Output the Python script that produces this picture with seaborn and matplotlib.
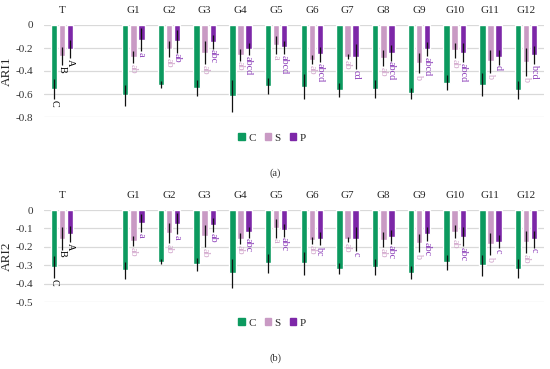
import numpy as np
import pandas as pd
import seaborn as sns
import matplotlib
matplotlib.use("Agg")
import matplotlib.pyplot as plt

groups = ['T', ' ', 'G1', 'G2', 'G3', 'G4', 'G5', 'G6', 'G7', 'G8', 'G9', 'G10', 'G11', 'G12']
present = ['T', 'G1', 'G2', 'G3', 'G4', 'G5', 'G6', 'G7', 'G8', 'G9', 'G10', 'G11', 'G12']
treatments = ['C', 'S', 'P']

# ARI1 means / errors (T, G1..G12)
ari1_c = [-0.557, -0.61, -0.52, -0.545, -0.62, -0.53, -0.535, -0.565, -0.555, -0.595, -0.50, -0.52, -0.565]
ari1_s = [-0.27, -0.28, -0.21, -0.24, -0.26, -0.175, -0.30, -0.275, -0.29, -0.33, -0.22, -0.315, -0.32]
ari1_p = [-0.21, -0.13, -0.14, -0.145, -0.21, -0.195, -0.255, -0.275, -0.24, -0.21, -0.24, -0.28, -0.26]
ari1_c_err = [0.09, 0.09, 0.03, 0.07, 0.14, 0.07, 0.11, 0.06, 0.08, 0.05, 0.065, 0.10, 0.08]
ari1_s_err = [0.08, 0.05, 0.07, 0.10, 0.05, 0.08, 0.04, 0.02, 0.07, 0.09, 0.065, 0.10, 0.12]
ari1_p_err = [0.08, 0.10, 0.10, 0.06, 0.05, 0.06, 0.065, 0.11, 0.07, 0.06, 0.08, 0.065, 0.075]
ari1_s_lab = ['B', 'ab', 'ab', 'ab', 'ab', 'a', 'ab', 'ab', 'ab', 'b', 'ab', 'b', 'b']
ari1_p_lab = ['A', 'a', 'ab', 'abc', 'abcd', 'abcd', 'abcd', 'cd', 'abcd', 'abcd', 'abcd', 'd', 'bcd']

# ARI2 means / errors
ari2_c = [-0.31, -0.327, -0.28, -0.295, -0.345, -0.29, -0.29, -0.32, -0.31, -0.34, -0.285, -0.30, -0.318]
ari2_s = [-0.155, -0.17, -0.125, -0.14, -0.155, -0.10, -0.165, -0.16, -0.162, -0.18, -0.118, -0.185, -0.176]
ari2_p = [-0.13, -0.07, -0.075, -0.082, -0.12, -0.11, -0.155, -0.16, -0.147, -0.13, -0.145, -0.173, -0.16]
ari2_c_err = [0.06, 0.047, 0.015, 0.035, 0.08, 0.05, 0.063, 0.03, 0.045, 0.035, 0.04, 0.058, 0.053]
ari2_s_err = [0.06, 0.027, 0.055, 0.06, 0.03, 0.05, 0.02, 0.013, 0.04, 0.05, 0.035, 0.06, 0.06]
ari2_p_err = [0.045, 0.05, 0.057, 0.04, 0.03, 0.035, 0.035, 0.065, 0.04, 0.04, 0.05, 0.036, 0.045]
ari2_s_lab = ['B', 'ab', 'ab', 'ab', 'ab', 'a', 'ab', 'ab', 'ab', 'b', 'ab', 'b', 'ab']
ari2_p_lab = ['A', 'a', 'a', 'ab', 'abc', 'abc', 'bc', 'c', 'abc', 'abc', 'abc', 'c', 'c']

colors = {'C': '#0c9a5f', 'S': '#c99ac4', 'P': '#7d27a8'}
lab_colors = {'C': 'black', 'S': '#d0a3ca', 'P': '#8a3cb8'}

matplotlib.rcParams['axes.unicode_minus'] = False
sns.set_style('white')
plt.rcParams['font.family'] = ['Liberation Serif', 'DejaVu Serif']


def make_df(c, s, p, ce, se, pe, sl, pl):
    rows = []
    for i, g in enumerate(present):
        rows.append([g, 'C', c[i], ce[i], 'C' if g == 'T' else ''])
        rows.append([g, 'S', s[i], se[i], sl[i]])
        rows.append([g, 'P', p[i], pe[i], pl[i]])
    return pd.DataFrame(rows, columns=['group', 'trt', 'val', 'err', 'lab'])


def draw(ax, df, ylab, ymin, ystep):
    sns.barplot(data=df, x='group', y='val', hue='trt', order=groups, hue_order=treatments,
                palette=colors, errorbar=None, width=0.68, gap=0.2, ax=ax, legend=False,
                saturation=1)
    for k, trt in enumerate(treatments):
        sub = df[df.trt == trt].set_index('group')
        for bar in ax.containers[k]:
            xc = bar.get_x() + bar.get_width() / 2
            g = groups[int(round(xc))]
            if g not in sub.index:
                continue
            v = sub.loc[g, 'val']
            e = sub.loc[g, 'err']
            ax.errorbar(xc, v, yerr=e, fmt='none', ecolor='#111111', elinewidth=0.9, capsize=0)
            lab = sub.loc[g, 'lab']
            if lab:
                ax.text(xc, v - e - 0.004 * abs(ymin) / 0.5, lab, rotation=270, ha='center', va='top',
                        fontsize=7.3, color=lab_colors[trt] if g != 'T' else 'black')
    ax.set_ylim(ymin, 0)
    ax.set_xlim(-0.5, len(groups) - 0.5)
    ticks = np.arange(ymin, 0.001, ystep)
    ax.set_yticks(ticks)
    ax.set_yticklabels(['0' if abs(t) < 1e-9 else f'{t:.1f}' for t in ticks],
                       fontsize=8, color='#333333')
    ax.yaxis.grid(True, color='#d9d9d9', linewidth=0.9)
    ax.set_axisbelow(True)
    ax.xaxis.tick_top()
    ax.tick_params(axis='x', length=0, pad=7, labelsize=8)
    ax.tick_params(axis='y', length=0, pad=8)
    ax.set_xlabel('')
    ax.set_ylabel(ylab, fontsize=9.5)
    ax.yaxis.set_label_coords(-0.062, 0.5)
    for sp in ax.spines.values():
        sp.set_visible(False)


fig = plt.figure(figsize=(5.5, 3.69), dpi=100)
ax1 = fig.add_axes([44 / 550, 1 - 117 / 369, 500 / 550, 92 / 369])
ax2 = fig.add_axes([44 / 550, 1 - 302 / 369, 500 / 550, 92 / 369])

df1 = make_df(ari1_c, ari1_s, ari1_p, ari1_c_err, ari1_s_err, ari1_p_err, ari1_s_lab, ari1_p_lab)
df2 = make_df(ari2_c, ari2_s, ari2_p, ari2_c_err, ari2_s_err, ari2_p_err, ari2_s_lab, ari2_p_lab)
draw(ax1, df1, 'ARI1', -0.8, 0.2)
draw(ax2, df2, 'ARI2', -0.5, 0.1)

handles = [plt.Rectangle((0, 0), 1, 1, color=colors[t]) for t in treatments]
for ypix, cap in [(138, '(a)'), (323, '(b)')]:
    fig.legend(handles, treatments, loc='center', bbox_to_anchor=(272 / 550, 1 - ypix / 369),
               ncol=3, frameon=False, fontsize=8, handlelength=0.6, handleheight=0.6,
               handletextpad=0.3, columnspacing=0.8)
    fig.text(275 / 550, 1 - (ypix + 35) / 369, cap, ha='center', va='center', fontsize=7.5, color='#333333')

fig.savefig('out.png', dpi=100)
